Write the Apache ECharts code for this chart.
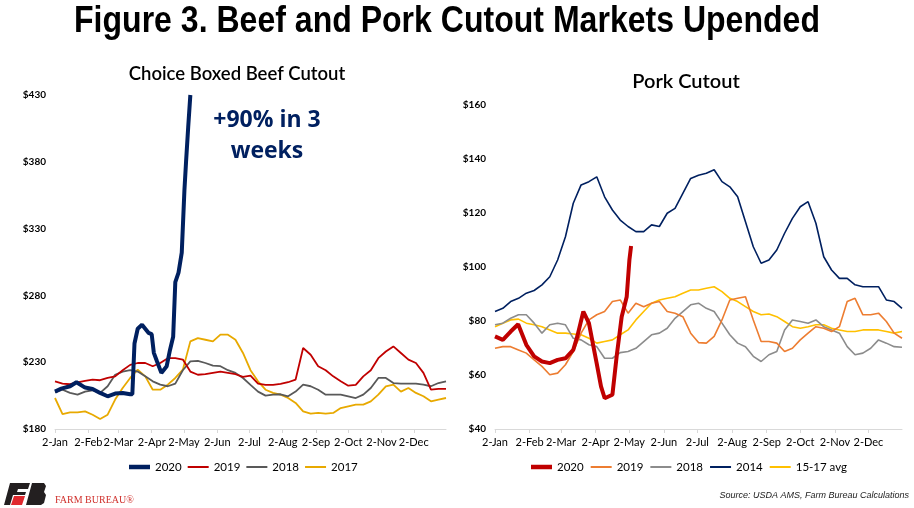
<!DOCTYPE html>
<html>
<head>
<meta charset="utf-8">
<script src="https://cdn.jsdelivr.net/npm/echarts@6/dist/echarts.min.js"></script>
<style>
html, body { margin: 0; padding: 0; background: #fff; }
#chart { width: 914px; height: 508px; }
</style>
</head>
<body>
<div id="chart"></div>
<script>
// x positions: day of year counted from 2-Jan
const monthDays = [0, 31, 59, 90, 120, 151, 181, 212, 243, 273, 304, 334];
const monthLabels = ['2-Jan', '2-Feb', '2-Mar', '2-Apr', '2-May', '2-Jun', '2-Jul', '2-Aug', '2-Sep', '2-Oct', '2-Nov', '2-Dec'];
const weekDays = [0, 7, 14, 21, 28, 35, 42, 49, 56, 63, 70, 77, 84, 91, 98, 105, 112, 119, 126, 133, 140, 147, 154, 161, 168, 175,
    182, 189, 196, 203, 210, 217, 224, 231, 238, 245, 252, 259, 266, 273, 280, 287, 294, 301, 308, 315, 322, 329, 336, 343, 350, 357, 364];

// Choice boxed beef cutout, $/cwt
const beef2020Days = [0, 5, 14, 20, 28, 35, 42, 49, 56, 63, 70, 72, 74, 77, 81, 87, 90, 92, 95, 99, 104, 107, 110, 112, 115, 118, 120.5, 122, 124, 126];
const beef2020 = [208, 210, 212, 215, 211, 210, 207, 204.5, 206.5, 207, 206, 206, 244, 255, 258, 252, 251, 237, 230.5, 222, 227, 239, 249, 290, 297, 312, 359, 380, 406, 430];
const beef2019 = [215.7, 214, 213.5, 214.9, 216, 216.9, 216.5, 218.2, 219.4, 224, 228, 229.4, 229.4, 227, 229.4, 233, 233, 232, 223, 220.6,
    221, 222, 223, 222, 221, 219, 220, 214, 213, 213, 213.7, 215, 217, 240.6, 235.6, 227, 224, 219.4, 215.7, 212.4,
    213, 219.4, 224, 233, 238, 241.8, 236.9, 231.9, 229.4, 222, 209.4, 210, 210];
const beef2018 = [207.4, 209.4, 207, 205.7, 208, 209, 207, 212, 220.6, 223, 224, 223, 219.4, 215.7, 213.2, 212, 214, 224, 230.6, 231,
    229.4, 227.4, 227, 224, 222, 218.2, 213, 208, 205, 205.7, 206, 204.5, 208, 213.2, 212, 209.4, 205.7, 205.7, 205.7, 204.5,
    203.2, 205.7, 210.7, 218.2, 218.2, 214.4, 214, 214, 214, 213.2, 212, 214.4, 215.7];
const beef2017 = [203.2, 191.2, 192.5, 192.5, 193.2, 190.7, 187.5, 190.7, 202, 210.7, 218.2, 224.4, 219.4, 209.4, 209.4, 213.2, 218.2, 224.4, 245.6, 248,
    246.8, 245.6, 250.6, 250.6, 246.8, 236.9, 224, 215.7, 209.4, 207, 205.7, 203.2, 199.5, 193.2, 191.5, 192, 191.5, 192, 195.7, 197,
    198.2, 198.2, 200.7, 205.7, 211.9, 213.2, 208, 210.7, 207, 204.5, 200.7, 202, 203.2];

// Pork cutout, $/cwt
const pork2020Days = [0, 7, 14, 20.7, 28, 35, 42, 49, 56, 63, 70, 73.6, 79, 84, 90.9, 94.8, 98.1, 105, 108.8, 113.3, 117.8, 120.2, 121.7];
const pork2020 = [74.3, 73, 76.1, 78.8, 71.2, 66.9, 65, 64.4, 65.6, 66.2, 69.3, 74.3, 83.5, 79.2, 64.4, 55.8, 51.4, 52.7, 66.9, 81.6, 89, 102.6, 107.8];
const pork2019 = [69.9, 70.5, 70.5, 69.3, 68.1, 65.6, 63.2, 60.1, 60.7, 63.8, 68.7, 75.5, 80.4, 82.3, 83.5, 87.2, 87.8, 82.9, 86.6, 85.3,
    86.6, 87.2, 83.5, 82.9, 81.6, 75.5, 72, 71.8, 74.3, 80.4, 87.8, 88.4, 89, 80.4, 72.4, 72.4, 71.8, 68.7, 69.9, 73,
    75.5, 77.9, 77.3, 76.1, 77.9, 87.2, 88.4, 82.3, 82.3, 82.9, 79.8, 75.5, 73.6];
const pork2018 = [78.6, 79.2, 81, 82.3, 82.3, 79.2, 75.5, 78.6, 79.2, 78.6, 73.6, 73, 71.2, 70.5, 66.2, 66.2, 68.3, 68.7, 69.9, 72.4,
    74.9, 75.5, 77.3, 81, 83.5, 86, 86.6, 84.7, 83.5, 79.2, 74.9, 71.8, 70.5, 66.9, 65, 67.5, 68.7, 76.7, 80.4, 79.8,
    79.2, 80.4, 77.9, 76.7, 75.5, 70.5, 67.5, 68.1, 69.9, 73, 71.8, 70.5, 70.3];
const pork2014 = [83.5, 84.7, 87.2, 88.4, 90.3, 91.3, 93.4, 96.4, 102.6, 111.2, 123.6, 130.4, 131.6, 133.4, 126, 121.1, 117.4, 115, 113.1, 113.1,
    115.6, 115, 119.9, 121.7, 127.3, 132.8, 134, 134.7, 136, 131.6, 129.7, 126, 116.8, 107.5, 101.4, 102.6, 106.3, 112.5, 118, 122.3,
    124.2, 116.2, 103.8, 98.9, 95.8, 95.8, 93.4, 92.7, 92.7, 92.7, 87.8, 87.2, 84.7];
const porkAvg1517 = [77.9, 79.2, 80.4, 80.7, 79.2, 78.6, 77.9, 76.7, 75.5, 75.5, 75.2, 74.9, 73.6, 71.8, 72.4, 73, 74.9, 76.7, 80.4, 83.5,
    86.6, 87.8, 88.4, 89, 90.3, 91.5, 91.5, 92.1, 92.7, 90.9, 88.4, 87.2, 85.3, 83.5, 82.3, 82.6, 81.6, 79.8, 77.9, 77.3,
    77.9, 78.6, 78.6, 77.3, 76.7, 76.1, 76.1, 76.7, 76.7, 76.7, 76.1, 75.5, 76.1];

const pair = (days, vals) => days.map((d, i) => [d, vals[i]]);

const labelFont = 'Lato, "DejaVu Sans", sans-serif';
// legend swatches: plain line, thick for 2020
const thickIcon = 'path://M0,0L21,0L21,4.5L0,4.5Z';
const thinIcon = 'path://M0,0L21,0L21,2L0,2Z';

function xAxisFor(gridIndex) {
    return {
        type: 'value', gridIndex: gridIndex, min: 0, max: 364,
        splitLine: { show: false },
        axisLine: { lineStyle: { color: '#d9d9d9', width: 1 } },
        axisTick: { show: true, customValues: monthDays, length: 4, lineStyle: { color: '#d9d9d9' } },
        axisLabel: {
            customValues: monthDays, margin: 8, color: '#000', fontSize: 11, fontFamily: labelFont,
            formatter: v => monthLabels[monthDays.indexOf(v)]
        }
    };
}

function yAxisFor(gridIndex, min, max, step) {
    return {
        type: 'value', gridIndex: gridIndex, min: min, max: max, interval: step,
        splitLine: { show: false }, axisLine: { show: false }, axisTick: { show: false },
        axisLabel: { color: '#000', fontSize: 10, fontWeight: 'bold', fontFamily: labelFont, margin: 9, formatter: v => '$' + v }
    };
}

function line(name, data, color, width, idx) {
    return {
        name: name, type: 'line', xAxisIndex: idx, yAxisIndex: idx, data: data,
        symbol: 'none', smooth: false, animation: false,
        lineStyle: { color: color, width: width }, itemStyle: { color: color }
    };
}

function legendItems(names) {
    return names.map((n, i) => ({ name: n, icon: i === 0 ? thickIcon : thinIcon }));
}

const chart = echarts.init(document.getElementById('chart'));
chart.setOption({
    backgroundColor: '#fff',
    animation: false,
    grid: [
        { left: 55, right: 468, top: 95, bottom: 79 },
        { left: 495, right: 12, top: 105, bottom: 79 }
    ],
    xAxis: [xAxisFor(0), xAxisFor(1)],
    yAxis: [yAxisFor(0, 180, 430, 50), yAxisFor(1, 40, 160, 20)],
    legend: [
        {
            left: 124, top: 456, itemWidth: 21, itemHeight: 12, itemGap: 6, symbolKeepAspect: true,
            textStyle: { color: '#000', fontSize: 11.5, fontFamily: labelFont },
            data: legendItems(['2020', '2019', '2018', '2017'])
        },
        {
            left: 526, top: 456, itemWidth: 21, itemHeight: 12, itemGap: 7, symbolKeepAspect: true,
            textStyle: { color: '#000', fontSize: 11.5, fontFamily: labelFont },
            formatter: n => n.replace('Pork ', ''),
            data: legendItems(['Pork 2020', 'Pork 2019', 'Pork 2018', 'Pork 2014', 'Pork 15-17 avg'])
        }
    ],
    series: [
        line('2017', pair(weekDays, beef2017), '#e8a900', 1.8, 0),
        line('2018', pair(weekDays, beef2018), '#595959', 1.8, 0),
        line('2019', pair(weekDays, beef2019), '#c00000', 1.8, 0),
        line('2020', pair(beef2020Days, beef2020), '#002060', 4, 0),
        line('Pork 15-17 avg', pair(weekDays, porkAvg1517), '#ffc000', 1.6, 1),
        line('Pork 2014', pair(weekDays, pork2014), '#002060', 1.6, 1),
        line('Pork 2018', pair(weekDays, pork2018), '#8c8c8c', 1.6, 1),
        line('Pork 2019', pair(weekDays, pork2019), '#ed7d31', 1.6, 1),
        line('Pork 2020', pair(pork2020Days, pork2020), '#c00000', 4, 1)
    ],
    graphic: [
        {
            type: 'text', x: 447, y: 22, scaleX: 0.89,
            style: { text: 'Figure 3. Beef and Pork Cutout Markets Upended', textAlign: 'center', textVerticalAlign: 'middle',
                font: 'bold 36px "Liberation Sans", Arial, sans-serif', fill: '#000' }
        },
        {
            type: 'text', x: 237, y: 74,
            style: { text: 'Choice Boxed Beef Cutout', textAlign: 'center', textVerticalAlign: 'middle',
                font: '600 18.5px Lato, sans-serif', fill: '#000' }
        },
        {
            type: 'text', x: 686, y: 82,
            style: { text: 'Pork Cutout', textAlign: 'center', textVerticalAlign: 'middle',
                font: '600 20px Lato, sans-serif', fill: '#000' }
        },
        {
            type: 'text', x: 267, y: 136,
            style: { text: '+90% in 3\nweeks', textAlign: 'center', textVerticalAlign: 'middle', lineHeight: 31,
                font: 'bold 23px "Open Sans", sans-serif', fill: '#002060' }
        },
        {
            type: 'polygon',
            shape: { points: [[10, 483], [30, 483], [28, 489], [18, 489], [17, 492], [26, 492], [25, 495], [13, 495], [10, 505], [4, 505]] },
            style: { fill: '#231f20' }
        },
        {
            type: 'polygon',
            shape: { points: [[14, 496], [25, 496], [22, 505], [11, 505]] },
            style: { fill: '#e0282e' }
        },
        {
            type: 'polygon',
            shape: { points: [[32, 483], [44, 483], [46, 486], [44, 492], [46, 495], [44, 503], [41, 505], [26, 505]] },
            style: { fill: '#231f20' }
        },
        {
            type: 'text', x: 55, y: 500,
            style: { text: 'FARM BUREAU\u00ae', textVerticalAlign: 'middle', font: '10px "Liberation Serif", serif', fill: '#d0312d' }
        },
        {
            type: 'text', x: 909, y: 495,
            style: { text: 'Source: USDA AMS, Farm Bureau Calculations', textAlign: 'right', textVerticalAlign: 'middle',
                font: 'italic 9px "Liberation Sans", sans-serif', fill: '#222' }
        }
    ]
});
</script>
</body>
</html>
